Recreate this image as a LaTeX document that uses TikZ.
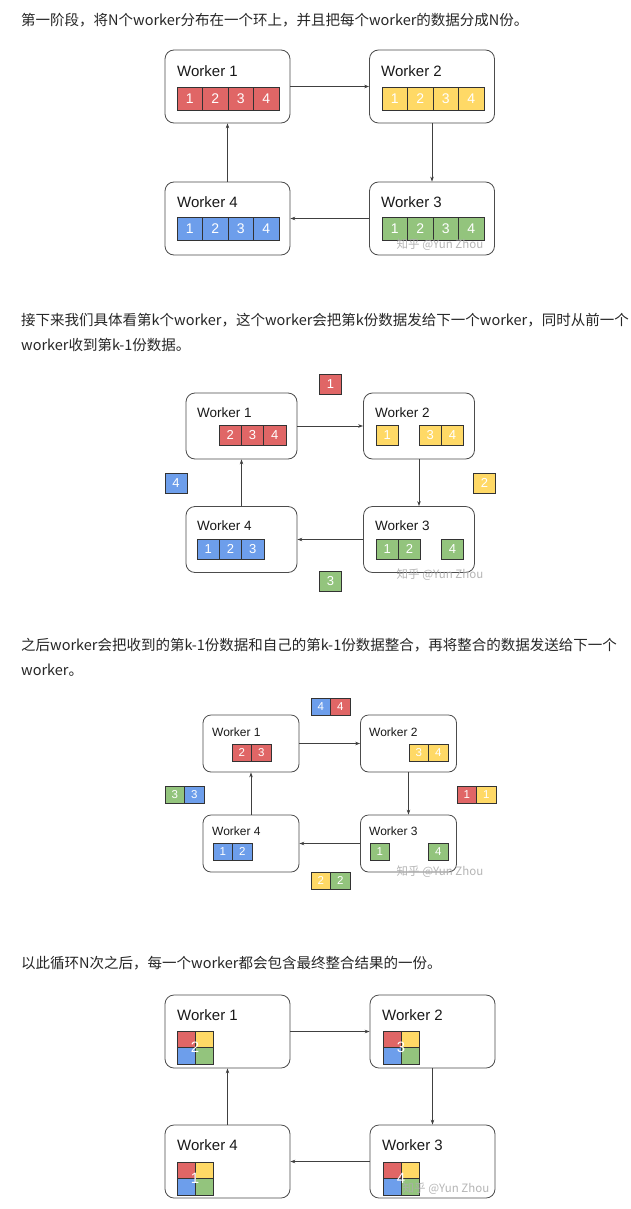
\documentclass[tikz,border=0pt]{standalone}
\usepackage{fontspec}
\setmainfont{Liberation Sans}
\newfontfamily\cjk{Noto Sans CJK SC}
\usetikzlibrary{arrows.meta}

\definecolor{cred}{HTML}{E06666}
\definecolor{cyel}{HTML}{FFD966}
\definecolor{cblu}{HTML}{6D9EEB}
\definecolor{cgrn}{HTML}{93C47D}

\tikzset{
  para/.style={anchor=west, inner sep=0pt, text=black!85,
    font=\cjk\fontsize{14.5}{18}\selectfont},
  workerbox/.style={draw=black!70, line width=0.8pt, rounded corners=9pt, fill=white},
  wlabel/.style={anchor=west, inner sep=0pt, text=black!90},
  cell/.style={draw=black!80, line width=0.6pt, text=white, inner sep=0pt},
  ring/.style={draw=black!75, line width=0.6pt, -{Stealth[length=5pt,width=3.5pt]}},
  wmark/.style={inner sep=0pt, text=white!68!black, opacity=0.9,
    font=\cjk\fontsize{11.5}{13}\selectfont}
}

\begin{document}
\begin{tikzpicture}[x=1pt,y=-1pt]
\useasboundingbox[fill=white] (0,0) rectangle (630,1209);

% --- texts
\node[para] (t1) at (21,20) {第一阶段，将N个worker分布在一个环上，并且把每个worker的数据分成N份。};
\node[para] (t2a) at (21,320) {接下来我们具体看第k个worker，这个worker会把第k份数据发给下一个worker，同时从前一个};
\node[para] (t2b) at (21,345) {worker收到第k-1份数据。};
\node[para] (t3a) at (21,645) {之后worker会把收到的第k-1份数据和自己的第k-1份数据整合，再将整合的数据发送给下一个};
\node[para] (t3b) at (21,670) {worker。};
\node[para] (t4) at (21,963) {以此循环N次之后，每一个worker都会包含最终整合结果的一份。};

% --- first stage
\node[workerbox, minimum width=125, minimum height=73] (a1) at (227.5,86.5) {};
\node[workerbox, minimum width=125, minimum height=73] (a2) at (432,86.5) {};
\node[workerbox, minimum width=125, minimum height=73] (a3) at (432,218.5) {};
\node[workerbox, minimum width=125, minimum height=73] (a4) at (227.5,218.5) {};
\foreach \w/\x/\y in {1/177/71, 2/381/71, 3/381/202, 4/177/202}
  \node[wlabel, font=\fontsize{15}{17}\selectfont] (a\w l) at (\x,\y) {Worker \w};
\foreach \w/\x/\y/\col in {1/177/98.5/cred, 2/382/98.5/cyel, 3/382/228.5/cgrn, 4/177/228.5/cblu}
  \foreach \k in {1,...,4}
    \node[cell, fill=\col, minimum width=25.5, minimum height=23,
      font=\fontsize{14}{16}\selectfont] (a\w c\k) at (\x+25.5*\k-12.75,\y) {\k};
\draw[ring] (a1.east) -- (a2.west);
\draw[ring] (a2.south) -- (a3.north);
\draw[ring] (a3.west) -- (a4.east);
\draw[ring] (a4.north) -- (a1.south);
\node[wmark] (a3m) at (440,245) {知乎 @Yun Zhou};

% --- send the k-th part
\node[workerbox, minimum width=111, minimum height=66] (b1) at (241.5,426) {};
\node[workerbox, minimum width=111, minimum height=66] (b2) at (419,426) {};
\node[workerbox, minimum width=111, minimum height=66] (b3) at (419,539.5) {};
\node[workerbox, minimum width=111, minimum height=66] (b4) at (241.5,539.5) {};
\foreach \w/\x/\y in {1/197/413, 2/375/413, 3/375/526, 4/197/526}
  \node[wlabel, font=\fontsize{13.5}{15}\selectfont] (b\w l) at (\x,\y) {Worker \w};
\tikzset{bcell/.style={cell, minimum width=22.3, minimum height=20, font=\fontsize{13}{15}\selectfont}}
\foreach \k/\x in {2/230.2, 3/252.5, 4/274.8}
  \node[bcell, fill=cred] (b1c\k) at (\x,435) {\k};
\foreach \k/\x in {1/387.2, 3/430.2, 4/452.5}
  \node[bcell, fill=cyel] (b2c\k) at (\x,435) {\k};
\foreach \k/\x in {1/387.2, 2/409.5, 4/452.5}
  \node[bcell, fill=cgrn] (b3c\k) at (\x,549) {\k};
\foreach \k/\x in {1/208.2, 2/230.5, 3/252.8}
  \node[bcell, fill=cblu] (b4c\k) at (\x,549) {\k};
\node[bcell, fill=cred] (b1s) at (330.5,384) {1};
\node[bcell, fill=cyel] (b2s) at (484.5,483) {2};
\node[bcell, fill=cgrn] (b3s) at (330.5,581) {3};
\node[bcell, fill=cblu] (b4s) at (176,483) {4};
\draw[ring] (b1.east) -- (b2.west);
\draw[ring] (b2.south) -- (b3.north);
\draw[ring] (b3.west) -- (b4.east);
\draw[ring] (b4.north) -- (b1.south);
\node[wmark] (b3m) at (440,575) {知乎 @Yun Zhou};

% --- merge and send on
\node[workerbox, minimum width=96, minimum height=57, rounded corners=8pt] (c1) at (251,743.5) {};
\node[workerbox, minimum width=96, minimum height=57, rounded corners=8pt] (c2) at (408.5,743.5) {};
\node[workerbox, minimum width=96, minimum height=57, rounded corners=8pt] (c3) at (408.5,843.5) {};
\node[workerbox, minimum width=96, minimum height=57, rounded corners=8pt] (c4) at (251,843.5) {};
\foreach \w/\x/\y in {1/212/732, 2/369/732, 3/369/831, 4/212/831}
  \node[wlabel, font=\fontsize{12}{14}\selectfont] (c\w l) at (\x,\y) {Worker \w};
\tikzset{ccell/.style={cell, minimum width=19.5, minimum height=17, font=\fontsize{11.5}{13}\selectfont}}
\foreach \k/\x in {2/241.8, 3/261.3}
  \node[ccell, fill=cred] (c1c\k) at (\x,752.5) {\k};
\foreach \k/\x in {3/418.8, 4/438.3}
  \node[ccell, fill=cyel] (c2c\k) at (\x,752.5) {\k};
\foreach \k/\x in {1/379.8, 4/438.3}
  \node[ccell, fill=cgrn] (c3c\k) at (\x,851.5) {\k};
\foreach \k/\x in {1/222.8, 2/242.3}
  \node[ccell, fill=cblu] (c4c\k) at (\x,851.5) {\k};
\node[ccell, fill=cblu] (c1sa) at (320.8,707) {4};
\node[ccell, fill=cred] (c1sb) at (340.3,707) {4};
\node[ccell, fill=cred] (c2sa) at (466.8,794.5) {1};
\node[ccell, fill=cyel] (c2sb) at (486.3,794.5) {1};
\node[ccell, fill=cyel] (c3sa) at (320.8,880.5) {2};
\node[ccell, fill=cgrn] (c3sb) at (340.3,880.5) {2};
\node[ccell, fill=cgrn] (c4sa) at (174.8,794.5) {3};
\node[ccell, fill=cblu] (c4sb) at (194.3,794.5) {3};
\draw[ring] (c1.east) -- (c2.west);
\draw[ring] (c2.south) -- (c3.north);
\draw[ring] (c3.west) -- (c4.east);
\draw[ring] (c4.north) -- (c1.south);
\node[wmark] (c3m) at (440,872) {知乎 @Yun Zhou};

% --- after N rounds
\node[workerbox, minimum width=125, minimum height=73] (d1) at (227.5,1031.5) {};
\node[workerbox, minimum width=125, minimum height=73] (d2) at (432.5,1031.5) {};
\node[workerbox, minimum width=125, minimum height=73] (d3) at (432.5,1161.5) {};
\node[workerbox, minimum width=125, minimum height=73] (d4) at (227.5,1161.5) {};
\foreach \w/\x/\y in {1/177/1015, 2/382/1015, 3/382/1145, 4/177/1145}
  \node[wlabel, font=\fontsize{15}{17}\selectfont] (d\w l) at (\x,\y) {Worker \w};
\tikzset{dcell/.style={cell, minimum width=18, minimum height=16.5}}
\foreach \w/\x/\y/\n in {1/177/1031/2, 2/383/1031/3, 3/383/1162/4, 4/177/1162/1} {
  \node[dcell, fill=cred] (d\w q1) at (\x+9,\y+8.25) {};
  \node[dcell, fill=cyel] (d\w q2) at (\x+27,\y+8.25) {};
  \node[dcell, fill=cblu] (d\w q3) at (\x+9,\y+24.75) {};
  \node[dcell, fill=cgrn] (d\w q4) at (\x+27,\y+24.75) {};
  \node[inner sep=0pt, text=white, font=\fontsize{15}{17}\selectfont] (d\w n) at (\x+18,\y+16.5) {\n};
}
\draw[ring] (d1.east) -- (d2.west);
\draw[ring] (d2.south) -- (d3.north);
\draw[ring] (d3.west) -- (d4.east);
\draw[ring] (d4.north) -- (d1.south);
\node[wmark] (d3m) at (446,1189) {知乎 @Yun Zhou};
\end{tikzpicture}
\end{document}
